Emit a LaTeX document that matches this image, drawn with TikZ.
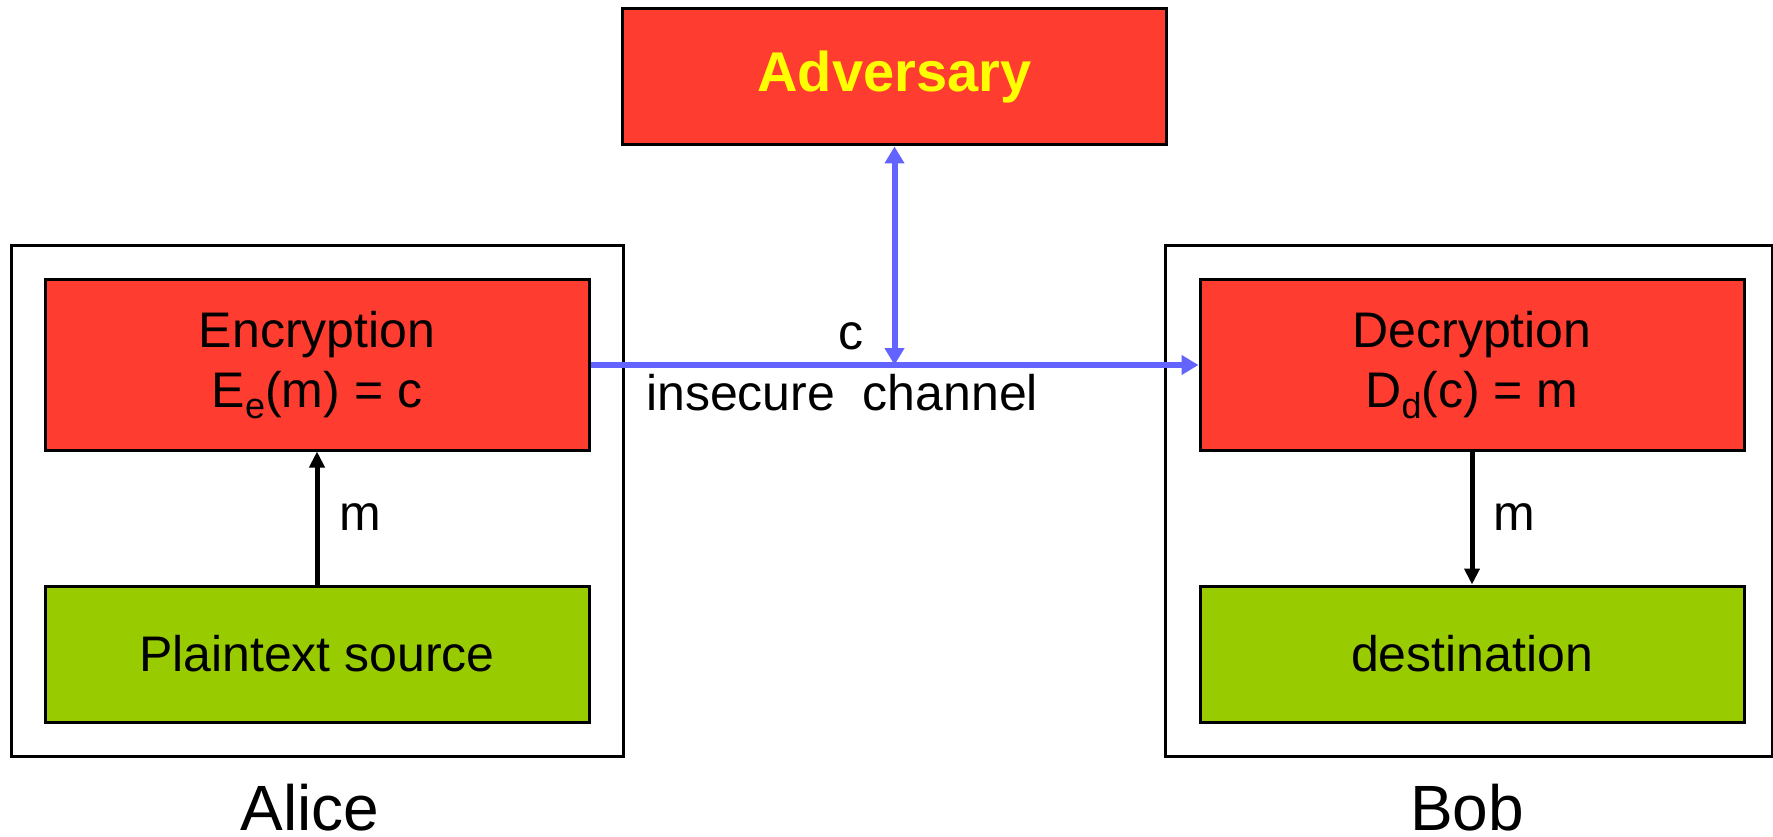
\documentclass[tikz,border=0pt]{standalone}
\usepackage{fontspec}
\setmainfont{Liberation Sans}
\usetikzlibrary{arrows.meta}
\definecolor{boxred}{RGB}{255,60,48}
\definecolor{boxgreen}{RGB}{153,204,0}
\definecolor{chanblue}{RGB}{99,99,255}
\definecolor{advyellow}{RGB}{255,255,0}
\newcommand{\lowsub}[1]{\raisebox{-11pt}{\fontsize{36}{36}\selectfont #1}}
\tikzset{
  redbox/.style={draw=black, line width=3pt, fill=boxred, inner sep=0pt, align=center,
    minimum width=544pt, font=\fontsize{50}{60}\selectfont},
  greenbox/.style={draw=black, line width=3pt, fill=boxgreen, inner sep=0pt, align=center,
    minimum width=544pt, minimum height=136pt, font=\fontsize{50}{60}\selectfont},
  outerbox/.style={draw=black, line width=3pt},
  bluearrow/.style={draw=chanblue, line width=6pt, -{Triangle[length=17pt,width=19pt]}},
  blackarrow/.style={draw=black, line width=5pt, -{Triangle[length=16pt,width=15pt]}},
  lbl/.style={inner sep=0pt, font=\fontsize{50}{60}\selectfont},
  party/.style={inner sep=0pt, font=\fontsize{64}{70}\selectfont}
}
\begin{document}
\begin{tikzpicture}[x=1pt,y=-1pt]
\useasboundingbox (0,0) rectangle (1773,837);
% outer boxes
\draw[outerbox] (11,246) rectangle (623,756);
\draw[outerbox] (1165,246) rectangle (1772,756);
% nodes
\node[redbox, minimum height=136pt, font=\fontsize{56}{60}\selectfont\bfseries, text=advyellow] (adv) at (894.5,77) {Adversary};
\node[redbox, minimum height=170pt] (enc) at (317,365) {Encryption\\E\lowsub{e}(m) = c};
\node[greenbox] (src) at (317,654) {Plaintext source};
\node[redbox, minimum height=170pt] (dec) at (1472,365) {Decryption\\D\lowsub{d}(c) = m};
\node[greenbox] (dst) at (1472,654) {destination};
\coordinate (tap) at (adv.south |- enc.east);
% connectors
\draw[bluearrow] (enc.east) -- (dec.west);
\draw[bluearrow, {Triangle[length=17pt,width=19pt]}-{Triangle[length=17pt,width=19pt]}] (adv.south) -- (tap);
\draw[blackarrow] (src.north) -- (enc.south);
\draw[blackarrow] (dec.south) -- (dst.north);
% labels
\node[lbl, anchor=base west] (mA) at (339,530) {m};
\node[lbl, anchor=base west] (mB) at (1493,530) {m};
\node[lbl, anchor=base] (clbl) at (851,349) {c};
\node[lbl, anchor=base west] (chan) at (646,410) {insecure~~channel};
\node[party, anchor=base] (alice) at (310,830) {Alice};
\node[party, anchor=base] (bob) at (1467,830) {Bob};
\end{tikzpicture}
\end{document}
